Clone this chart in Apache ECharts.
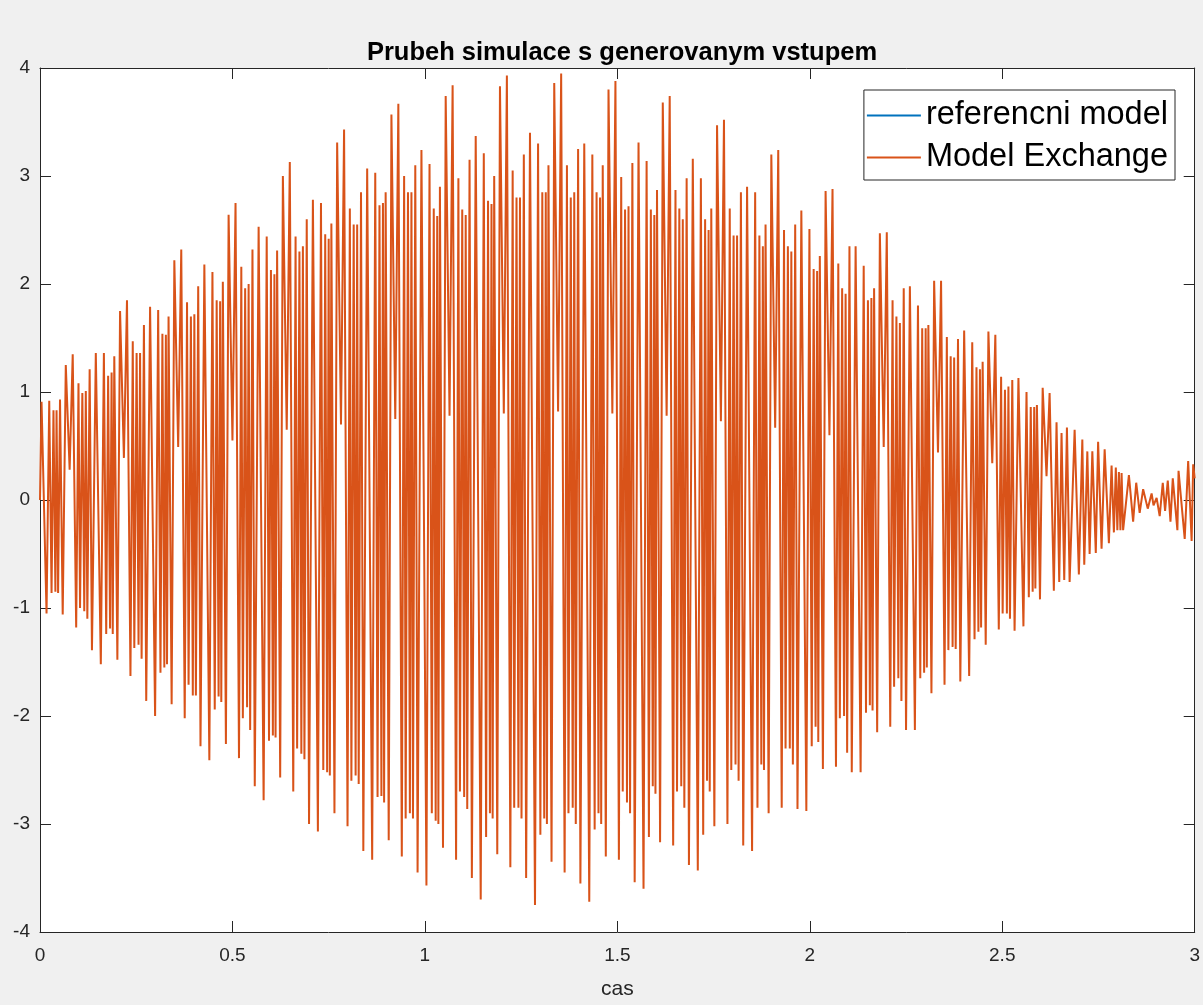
<!DOCTYPE html>
<html>
<head>
<meta charset="utf-8">
<title>Prubeh simulace s generovanym vstupem</title>
<script src="https://cdn.jsdelivr.net/npm/echarts@6/dist/echarts.min.js"></script>
<style>
  html, body { margin: 0; padding: 0; background: #f0f0f0; }
  #chart { width: 1203px; height: 1005px; }
</style>
</head>
<body>
<div id="chart"></div>
<script>
// cas [s] - extremy prubehu (po periodach obalky)
const casData = [
  0, 0.004, 0.017, 0.024, 0.030, 0.035, 0.040, 0.043, 0.047, 0.052, 0.059,
  0.067, 0.077, 0.085, 0.094, 0.100, 0.104, 0.110, 0.115, 0.119, 0.123, 0.129, 0.135, 0.145, 0.158, 0.166, 0.172, 0.177, 0.182, 0.186, 0.189, 0.193, 0.201,
  0.208, 0.218, 0.226, 0.235, 0.241, 0.245, 0.251, 0.256, 0.260, 0.264, 0.270, 0.276, 0.286, 0.299, 0.307, 0.313, 0.318, 0.323, 0.327, 0.330, 0.334, 0.342,
  0.349, 0.359, 0.367, 0.376, 0.382, 0.386, 0.392, 0.397, 0.401, 0.405, 0.411, 0.417, 0.427, 0.440, 0.448, 0.454, 0.459, 0.464, 0.468, 0.471, 0.475, 0.483,
  0.490, 0.500, 0.508, 0.517, 0.523, 0.527, 0.533, 0.538, 0.542, 0.546, 0.552, 0.558, 0.568, 0.581, 0.589, 0.595, 0.600, 0.605, 0.609, 0.612, 0.616, 0.624,
  0.631, 0.641, 0.649, 0.658, 0.664, 0.668, 0.674, 0.679, 0.683, 0.687, 0.693, 0.699, 0.709, 0.722, 0.730, 0.736, 0.741, 0.746, 0.750, 0.753, 0.757, 0.765,
  0.772, 0.782, 0.790, 0.799, 0.805, 0.809, 0.815, 0.820, 0.824, 0.828, 0.834, 0.840, 0.850, 0.863, 0.871, 0.877, 0.882, 0.887, 0.891, 0.894, 0.898, 0.906,
  0.913, 0.923, 0.931, 0.940, 0.946, 0.950, 0.956, 0.961, 0.965, 0.969, 0.975, 0.981, 0.991, 1.004, 1.012, 1.018, 1.023, 1.028, 1.032, 1.035, 1.039, 1.047,
  1.054, 1.064, 1.072, 1.081, 1.087, 1.091, 1.097, 1.102, 1.106, 1.110, 1.116, 1.122, 1.132, 1.145, 1.153, 1.159, 1.164, 1.169, 1.173, 1.176, 1.180, 1.188,
  1.195, 1.205, 1.213, 1.222, 1.228, 1.232, 1.238, 1.243, 1.247, 1.251, 1.257, 1.263, 1.273, 1.286, 1.294, 1.300, 1.305, 1.310, 1.314, 1.317, 1.321, 1.329,
  1.336, 1.346, 1.354, 1.363, 1.369, 1.373, 1.379, 1.384, 1.388, 1.392, 1.398, 1.404, 1.414, 1.427, 1.435, 1.441, 1.446, 1.451, 1.455, 1.458, 1.462, 1.470,
  1.477, 1.487, 1.495, 1.504, 1.510, 1.514, 1.520, 1.525, 1.529, 1.533, 1.539, 1.545, 1.555, 1.568, 1.576, 1.582, 1.587, 1.592, 1.596, 1.599, 1.603, 1.611,
  1.618, 1.628, 1.636, 1.645, 1.651, 1.655, 1.661, 1.666, 1.670, 1.674, 1.680, 1.686, 1.696, 1.709, 1.717, 1.723, 1.728, 1.733, 1.737, 1.740, 1.744, 1.752,
  1.759, 1.769, 1.777, 1.786, 1.792, 1.796, 1.802, 1.807, 1.811, 1.815, 1.821, 1.827, 1.837, 1.850, 1.858, 1.864, 1.869, 1.874, 1.878, 1.881, 1.885, 1.893,
  1.900, 1.910, 1.918, 1.927, 1.933, 1.937, 1.943, 1.948, 1.952, 1.956, 1.962, 1.968, 1.978, 1.991, 1.999, 2.005, 2.010, 2.015, 2.019, 2.022, 2.026, 2.034,
  2.041, 2.051, 2.059, 2.068, 2.074, 2.078, 2.084, 2.089, 2.093, 2.097, 2.103, 2.109, 2.119, 2.132, 2.140, 2.146, 2.151, 2.156, 2.160, 2.163, 2.167, 2.175,
  2.182, 2.192, 2.200, 2.209, 2.215, 2.219, 2.225, 2.230, 2.234, 2.238, 2.244, 2.250, 2.260, 2.273, 2.281, 2.287, 2.292, 2.297, 2.301, 2.304, 2.308, 2.316,
  2.323, 2.333, 2.341, 2.350, 2.356, 2.360, 2.366, 2.371, 2.375, 2.379, 2.385, 2.391, 2.401, 2.414, 2.422, 2.428, 2.433, 2.438, 2.442, 2.445, 2.449, 2.457,
  2.464, 2.474, 2.482, 2.491, 2.497, 2.501, 2.507, 2.512, 2.516, 2.520, 2.526, 2.532, 2.542, 2.555, 2.563, 2.569, 2.574, 2.579, 2.583, 2.586, 2.590, 2.598,
  2.605, 2.615, 2.623,
  2.634, 2.641, 2.648, 2.654, 2.661, 2.668, 2.675, 2.688, 2.699, 2.708, 2.713, 2.721, 2.727, 2.734, 2.743, 2.749, 2.758, 2.766, 2.777, 2.784,
  2.790, 2.795, 2.799, 2.803, 2.807, 2.810, 2.814, 2.829, 2.840, 2.848, 2.857, 2.866, 2.878, 2.888, 2.893, 2.901, 2.909, 2.917, 2.923, 2.930,
  2.937, 2.943, 2.955, 2.958, 2.974, 2.983, 2.992, 2.996, 3.000
];

// Model Exchange - vystup
const modelExchange = [
  0, 0.91, -1.05, 0.92, -0.86, 0.83, -0.85, 0.83, -0.86, 0.93, -1.06,
  1.25, 0.28, 1.35, -1.18, 1.08, -1.00, 0.99, -1.03, 1.01, -1.10, 1.21, -1.39, 1.36, -1.52, 1.36, -1.24, 1.15, -1.19, 1.18, -1.24, 1.33, -1.48,
  1.75, 0.39, 1.85, -1.63, 1.47, -1.37, 1.36, -1.34, 1.36, -1.47, 1.62, -1.86, 1.79, -2.00, 1.76, -1.60, 1.54, -1.55, 1.53, -1.52, 1.70, -1.89,
  2.22, 0.49, 2.32, -2.02, 1.83, -1.71, 1.70, -1.81, 1.72, -1.81, 1.98, -2.28, 2.18, -2.41, 2.11, -1.94, 1.85, -1.82, 1.84, -1.87, 2.02, -2.26,
  2.64, 0.55, 2.75, -2.39, 2.16, -2.02, 1.96, -1.92, 2.00, -2.13, 2.32, -2.65, 2.53, -2.78, 2.44, -2.23, 2.13, -2.18, 2.09, -2.20, 2.31, -2.57,
  3.00, 0.65, 3.13, -2.70, 2.44, -2.30, 2.30, -2.35, 2.35, -2.40, 2.60, -3.00, 2.78, -3.07, 2.75, -2.50, 2.46, -2.52, 2.42, -2.55, 2.56, -2.90,
  3.31, 0.70, 3.43, -3.02, 2.70, -2.60, 2.55, -2.55, 2.55, -2.63, 2.85, -3.25, 3.07, -3.33, 3.03, -2.75, 2.73, -2.74, 2.75, -2.80, 2.85, -3.15,
  3.57, 0.75, 3.67, -3.30, 3.00, -2.95, 2.85, -2.90, 2.85, -2.95, 3.10, -3.45, 3.24, -3.57, 3.11, -2.90, 2.70, -2.97, 2.63, -3.00, 2.90, -3.22,
  3.74, 0.78, 3.84, -3.33, 2.98, -2.70, 2.69, -2.75, 2.64, -2.86, 3.15, -3.50, 3.37, -3.70, 3.21, -3.12, 2.77, -2.90, 2.74, -2.95, 3.00, -3.28,
  3.83, 0.80, 3.93, -3.40, 3.05, -2.85, 2.80, -2.85, 2.80, -2.95, 3.20, -3.50, 3.40, -3.75, 3.30, -3.10, 2.85, -2.95, 2.85, -3.00, 3.10, -3.35,
  3.86, 0.82, 3.95, -3.45, 3.10, -2.90, 2.80, -2.85, 2.85, -3.00, 3.25, -3.55, 3.30, -3.72, 3.20, -3.05, 2.85, -2.90, 2.80, -3.00, 3.10, -3.30,
  3.80, 0.80, 3.88, -3.33, 2.99, -2.70, 2.69, -2.80, 2.72, -2.90, 3.12, -3.54, 3.31, -3.60, 3.14, -3.12, 2.69, -2.65, 2.64, -2.72, 2.87, -3.17,
  3.68, 0.78, 3.74, -3.20, 2.87, -2.70, 2.70, -2.65, 2.60, -2.85, 2.98, -3.38, 3.16, -3.43, 2.98, -3.10, 2.60, -2.60, 2.50, -2.70, 2.70, -3.02,
  3.47, 0.73, 3.52, -3.00, 2.70, -2.50, 2.45, -2.45, 2.45, -2.60, 2.85, -3.20, 2.90, -3.25, 2.85, -2.85, 2.45, -2.45, 2.35, -2.50, 2.55, -2.90,
  3.20, 0.67, 3.24, -2.85, 2.50, -2.30, 2.35, -2.30, 2.30, -2.45, 2.55, -2.86, 2.68, -2.88, 2.51, -2.28, 2.14, -2.10, 2.12, -2.24, 2.26, -2.49,
  2.86, 0.60, 2.88, -2.47, 2.19, -2.02, 1.96, -2.00, 1.91, -2.34, 2.35, -2.52, 2.35, -2.52, 2.17, -1.97, 1.85, -1.90, 1.87, -1.95, 1.96, -2.15,
  2.47, 0.49, 2.48, -2.10, 1.85, -1.73, 1.70, -1.65, 1.64, -1.86, 1.96, -2.13, 1.98, -2.13, 1.80, -1.65, 1.59, -1.60, 1.59, -1.55, 1.62, -1.79,
  2.03, 0.44, 2.03, -1.71, 1.51, -1.39, 1.33, -1.36, 1.32, -1.38, 1.49, -1.68, 1.57, -1.63, 1.46, -1.29, 1.23, -1.22, 1.21, -1.18, 1.28, -1.34,
  1.56, 0.34, 1.53, -1.20, 1.14, -1.05, 1.02, -1.05, 1.05, -1.10, 1.11, -1.21, 1.13, -1.17, 1.00, -0.90, 0.86, -0.85, 0.86, -0.82, 0.88, -0.92,
  1.04, 0.22, 0.99,
  -0.84, 0.72, -0.76, 0.62, -0.74, 0.67, -0.76, 0.65, -0.69, 0.56, -0.60, 0.45, -0.50, 0.45, -0.49, 0.54, -0.45, 0.47, -0.40, 0.32,
  -0.30, 0.30, -0.28, 0.26, -0.28, 0.25, -0.28, 0.23, -0.20, 0.16, -0.12, 0.10, -0.08, 0.06, -0.05, 0.02, -0.15, 0.16, -0.10, 0.18,
  -0.20, 0.20, -0.28, 0.27, -0.36, 0.36, -0.38, 0.33, 0.20
];

// referencni model - prubeh se s Model Exchange kryje (je pod nim schovany)
const referencniModel = modelExchange;

const xTicks = [0, 0.5, 1, 1.5, 2, 2.5, 3];
const yTicks = [-4, -3, -2, -1, 0, 1, 2, 3, 4];

const axisColor = '#262626';
const blue = '#0072BD';
const orange = '#D95319';
const fontFamily = '"Liberation Sans", Arial, Helvetica, sans-serif';

let chart = echarts.init(document.getElementById('chart'), null, { renderer: 'canvas' });

function toPairs(values) {
  return casData.map((t, i) => [t, values[i]]);
}

function axisStyle(extra) {
  return Object.assign({
    type: 'value',
    axisLine: { show: true, onZero: false, lineStyle: { color: axisColor, width: 1 } },
    axisTick: { show: true, inside: true, length: 11, lineStyle: { color: axisColor } },
    splitLine: { show: false }
  }, extra);
}

let option = {
  backgroundColor: '#f0f0f0',
  animation: false,
  title: {
    text: 'Prubeh simulace s generovanym vstupem',
    left: 617,
    textAlign: 'center',
    top: 35,
    textStyle: {
      fontFamily: fontFamily,
      fontSize: 25.5,
      fontWeight: 'bold',
      color: '#000000'
    }
  },
  legend: {
    data: [
      { name: 'referencni model', itemStyle: { color: blue, opacity: 1 } },
      { name: 'Model Exchange', itemStyle: { color: orange, opacity: 1 } }
    ],
    orient: 'vertical',
    right: 28,
    top: 90,
    backgroundColor: '#ffffff',
    borderColor: axisColor,
    borderWidth: 1,
    padding: [9, 7, 6, 3],
    itemGap: 9,
    itemWidth: 54,
    itemHeight: 2,
    icon: 'rect',
    textStyle: {
      fontFamily: fontFamily,
      fontSize: 32.5,
      color: '#000000'
    }
  },
  grid: {
    left: 40,
    right: 8,
    top: 68,
    bottom: 72,
    show: true,
    backgroundColor: '#ffffff',
    borderWidth: 0
  },
  xAxis: [
    axisStyle({
      min: xTicks[0],
      max: xTicks[xTicks.length - 1],
      interval: 0.5,
      name: 'cas',
      nameLocation: 'middle',
      nameGap: 47,
      nameTextStyle: { fontFamily: fontFamily, fontSize: 21, color: axisColor },
      axisLabel: { fontFamily: fontFamily, fontSize: 19, color: axisColor, margin: 14 }
    }),
    axisStyle({
      position: 'top',
      min: xTicks[0],
      max: xTicks[xTicks.length - 1],
      interval: 0.5,
      axisLabel: { show: false }
    })
  ],
  yAxis: [
    axisStyle({
      min: yTicks[0],
      max: yTicks[yTicks.length - 1],
      interval: 1,
      axisLabel: { fontFamily: fontFamily, fontSize: 19, color: axisColor, margin: 10 }
    }),
    axisStyle({
      position: 'right',
      min: yTicks[0],
      max: yTicks[yTicks.length - 1],
      interval: 1,
      axisLabel: { show: false }
    })
  ],
  series: [
    {
      // kresli se prvni, v grafu je zcela prekryt oranzovou krivkou
      name: 'referencni model',
      type: 'line',
      showSymbol: false,
      symbol: 'none',
      color: blue,
      lineStyle: { width: 2, color: blue, opacity: 0 },
      data: toPairs(referencniModel)
    },
    {
      name: 'Model Exchange',
      type: 'line',
      showSymbol: false,
      symbol: 'none',
      color: orange,
      lineStyle: { width: 2, color: orange },
      data: toPairs(modelExchange)
    }
  ]
};

option && chart.setOption(option);
</script>
</body>
</html>
